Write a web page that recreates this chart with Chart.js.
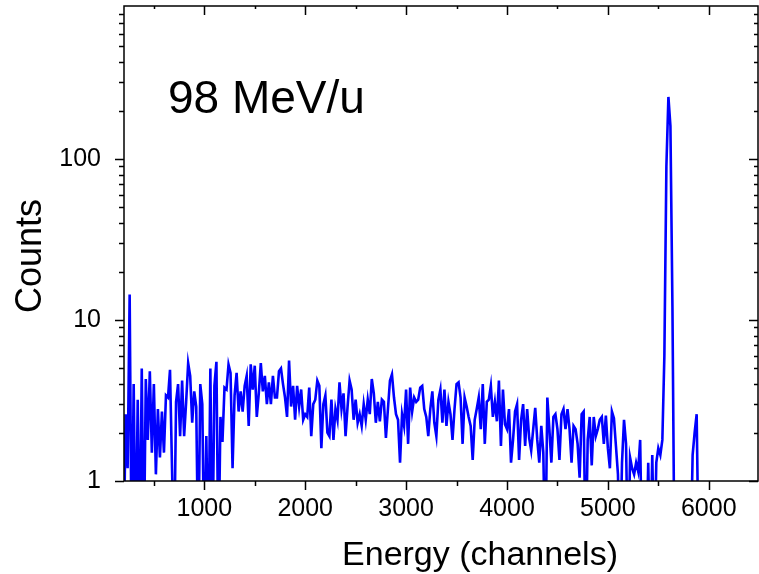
<!DOCTYPE html>
<html>
<head>
<meta charset="utf-8">
<script src="https://cdn.jsdelivr.net/npm/chart.js@4/dist/chart.umd.min.js"></script>
<style>
  body { margin: 0; background: #fff; }
  canvas { display: block; }
</style>
</head>
<body>
<canvas id="spectrum" width="759" height="574"></canvas>
<script>
// histogram: bin i starts at channel binStart + i * binWidth
const binStart = 200;
const binWidth = 20;

// counts per bin (0 = empty bin)
const counts = [
  0, 2.6, 1.2, 14.4, 0, 4.0, 0, 3.2, 0, 5.0,
  0, 4.3, 1.8, 4.8, 1.5, 4.0, 1.1, 2.8, 1.4, 2.7,
  1.5, 3.4, 3.3, 4.9, 1.2, 0, 3.1, 4.0, 1.9, 4.2,
  1.9, 3.1, 5.4, 4.5, 2.3, 3.6, 2.9, 0, 4.0, 3.0,
  0, 1.9, 0, 5.0, 0, 3.9, 5.5, 0, 2.5, 1.75,
  3.8, 3.7, 5.3, 4.7, 1.2, 3.4, 4.7, 2.7, 3.6, 2.7,
  3.9, 4.5, 2.2, 5.3, 3.7, 5.2, 2.5, 3.5, 5.4, 3.6,
  4.5, 3.0, 4.1, 3.0, 4.5,
  3.3, 3.3, 4.8, 5.0, 4.0, 3.3, 2.5, 5.6, 2.9, 3.9,
  2.4, 3.9, 2.9, 3.7, 2.4, 2.6, 2.5, 3.8, 1.9, 3.0,
  3.2, 4.2, 3.9, 1.6, 3.0, 3.4, 2.0, 1.9, 3.2, 1.8,
  2.8, 2.4, 4.1, 2.8, 3.5, 1.9, 2.9, 4.2, 3.7, 2.4,
  3.2, 2.3, 2.6, 2.2, 3.0, 2.4, 3.2, 2.6, 4.3, 3.5,
  2.3, 3.1, 2.35, 3.2, 3.1, 1.85, 2.8, 4.2, 4.6, 3.3,
  2.6, 2.4, 1.3, 2.6, 2.2, 3.7, 1.7, 3.8, 2.7, 3.3,
  3.1,
  3.2, 3.8, 3.9, 2.8, 2.5, 1.9, 2.8, 3.6, 2.3, 1.9,
  3.2, 3.7, 2.3, 3.7, 2.2, 3.1, 2.6, 1.8, 2.8, 4.0,
  4.1, 3.3, 1.7, 3.3, 2.9, 2.5, 2.2, 1.35, 2.4, 2.8,
  3.3, 2.1, 4.0, 1.7, 3.1, 3.2, 3.9, 2.5, 3.1, 2.35,
  4.2, 1.65, 3.7, 2.25, 2.1, 2.8, 1.3, 1.8, 2.7, 3.0,
  1.35, 2.4, 3.0, 1.65, 2.8, 1.85, 1.55, 2.1, 2.85, 1.8,
  1.3, 2.2, 1.5, 0, 3.3, 2.1, 1.3, 2.5, 2.6, 2.1,
  1.35, 2.6,
  2.8, 2.1, 2.8, 2.1, 1.3, 2.2, 2.1, 1.7, 1.05, 2.6,
  2.7, 0, 1.8, 2.5, 1.25, 2.5, 1.9, 2.1, 2.4, 2.5,
  1.7, 2.55, 1.6, 1.2, 2.7, 2.45, 1.65, 1.1, 0, 1.3,
  2.4, 1.7, 0, 1.4, 1.2, 1.1, 1.3, 1.15, 1.8, 0,
  0, 0, 1.3, 0, 1.45, 0, 1.3, 1.6, 1.45, 1.8,
  6, 90, 243, 160, 12, 0, 0, 0, 0, 0,
  0, 0, 0, 0, 1.45, 2.0, 2.6, 0
];

const xMajor = [1000, 2000, 3000, 4000, 5000, 6000];
const xMinor = [500, 1500, 2500, 3500, 4500, 5500];
const yMajor = [1, 10, 100];
const yMinor = [2, 3, 4, 5, 6, 7, 8, 9, 20, 30, 40, 50, 60, 70, 80, 90, 200, 300, 400, 500, 600, 700, 800];

const zeroFloor = 0.3; // empty bins drop below the log axis
const points = counts.map((c, i) => ({ x: binStart + i * binWidth, y: c > 0 ? c : zeroFloor }));

const FONT = "'Liberation Sans', Arial, sans-serif";
Chart.defaults.font.family = FONT;
Chart.defaults.color = '#000';

const frame = {
  id: 'frame',
  afterDatasetsDraw(chart) {
    const { ctx, chartArea: a, scales: { x, y } } = chart;
    ctx.save();
    ctx.strokeStyle = '#000';
    ctx.lineWidth = 1.5;
    ctx.strokeRect(a.left, a.top, a.right - a.left, a.bottom - a.top);
    ctx.beginPath();
    xMajor.forEach(v => {
      const px = Math.round(x.getPixelForValue(v)) + 0.5;
      ctx.moveTo(px, a.bottom); ctx.lineTo(px, a.bottom + 9);
      ctx.moveTo(px, a.top); ctx.lineTo(px, a.top + 9);
    });
    xMinor.forEach(v => {
      const px = Math.round(x.getPixelForValue(v)) + 0.5;
      ctx.moveTo(px, a.bottom); ctx.lineTo(px, a.bottom + 5);
      ctx.moveTo(px, a.top); ctx.lineTo(px, a.top + 3);
    });
    yMajor.forEach(v => {
      const py = Math.round(y.getPixelForValue(v)) + 0.5;
      ctx.moveTo(a.left, py); ctx.lineTo(a.left - 9, py);
      ctx.moveTo(a.right, py); ctx.lineTo(a.right - 9, py);
    });
    yMinor.forEach(v => {
      const py = Math.round(y.getPixelForValue(v)) + 0.5;
      ctx.moveTo(a.left, py); ctx.lineTo(a.left - 5, py);
      ctx.moveTo(a.right, py); ctx.lineTo(a.right - 4, py);
    });
    ctx.stroke();

    ctx.fillStyle = '#000';
    ctx.textBaseline = 'alphabetic';
    ctx.textAlign = 'left';
    ctx.font = '46px ' + FONT;
    ctx.fillText('98 MeV/u', 168, 113);

    ctx.textAlign = 'center';
    ctx.font = '34px ' + FONT;
    ctx.fillText('Energy (channels)', 480, 565);

    ctx.translate(41, 256);
    ctx.rotate(-Math.PI / 2);
    ctx.font = '36px ' + FONT;
    ctx.fillText('Counts', 0, 0);
    ctx.restore();
  }
};

new Chart(document.getElementById('spectrum'), {
  type: 'line',
  data: {
    datasets: [{
      data: points,
      borderColor: '#0000FF',
      borderWidth: 2.6,
      pointRadius: 0,
      fill: false,
      tension: 0
    }]
  },
  options: {
    responsive: false,
    animation: false,
    devicePixelRatio: 1,
    layout: { padding: { top: 6, right: 1, left: 0, bottom: 0 } },
    plugins: { legend: { display: false }, tooltip: { enabled: false } },
    scales: {
      x: {
        type: 'linear',
        min: 204,
        max: 6488,
        grid: { display: false },
        border: { display: false },
        afterBuildTicks(s) { s.ticks = xMajor.map(v => ({ value: v })); },
        afterFit(s) { s.height = 93; s.paddingLeft = 0; s.paddingRight = 0; },
        ticks: { font: { size: 25 }, padding: 5, maxRotation: 0, autoSkip: false, callback: v => String(v) }
      },
      y: {
        type: 'logarithmic',
        min: 1,
        max: 892,
        grid: { display: false },
        border: { display: false },
        afterBuildTicks(s) { s.ticks = yMajor.map(v => ({ value: v })); },
        afterFit(s) { s.width = 124; s.paddingTop = 0; s.paddingBottom = 0; },
        ticks: { font: { size: 25 }, padding: 15, autoSkip: false, callback: v => String(v) }
      }
    }
  },
  plugins: [frame]
});
</script>
</body>
</html>
